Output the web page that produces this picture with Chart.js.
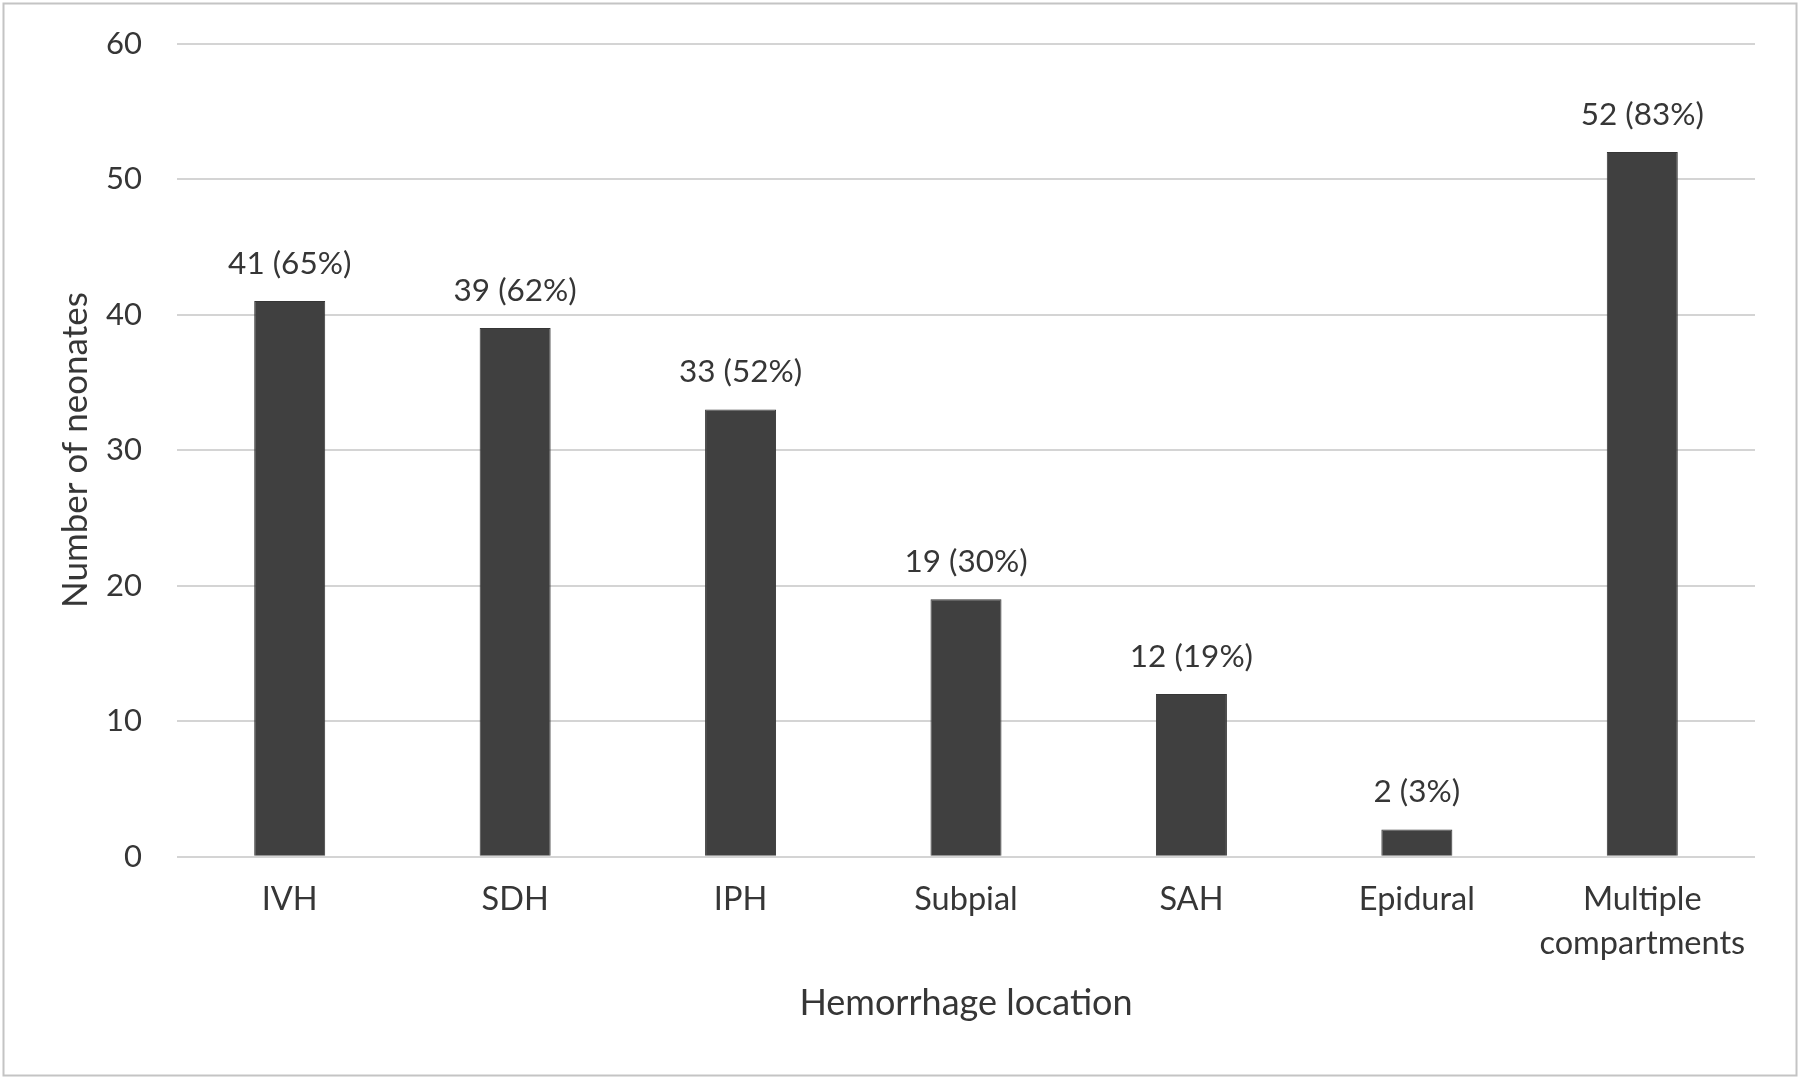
<!DOCTYPE html>
<html lang="en">
<head>
    <meta charset="UTF-8">
    <title>Hemorrhage location</title>
    <script src="https://cdn.jsdelivr.net/npm/chart.js"></script>
    <style>
        html, body {
            margin: 0;
            padding: 0;
            background: #ffffff;
            overflow: hidden;
        }
        #wrap {
            width: 1800px;
            height: 1079px;
        }
    </style>
</head>
<body>
    <div id="wrap">
        <canvas id="chart" width="1800" height="1079"></canvas>
    </div>

    <script>
        // Data
        const categories = ['IVH', 'SDH', 'IPH', 'Subpial', 'SAH', 'Epidural', ['Multiple', 'compartments']];
        const neonates = [41, 39, 33, 19, 12, 2, 52];
        const percents = [65, 62, 52, 30, 19, 3, 83];
        const yTicks = [0, 10, 20, 30, 40, 50, 60];

        const textColor = '#363636';
        const fontFamily = 'Lato, "Open Sans", sans-serif';

        // white background + thin frame around the picture
        const framePlugin = {
            id: 'frame',
            beforeDraw(chart) {
                const c = chart.ctx;
                c.save();
                c.fillStyle = '#ffffff';
                c.fillRect(0, 0, chart.width, chart.height);
                c.restore();
            },
            afterDraw(chart) {
                const c = chart.ctx;
                c.save();
                c.strokeStyle = '#c4c4c4';
                c.lineWidth = 2;
                c.strokeRect(3.5, 3.5, chart.width - 7, chart.height - 7);
                c.restore();
            }
        };

        // "41 (65%)" labels over the bars
        const valueLabels = {
            id: 'valueLabels',
            afterDatasetsDraw(chart) {
                const c = chart.ctx;
                const meta = chart.getDatasetMeta(0);
                c.save();
                c.fillStyle = textColor;
                c.font = '31.5px ' + fontFamily;
                c.textAlign = 'center';
                c.textBaseline = 'middle';
                meta.data.forEach((bar, i) => {
                    c.fillText(neonates[i] + ' (' + percents[i] + '%)', bar.x, bar.y - 37.5);
                });
                c.restore();
            }
        };

        new Chart(document.getElementById('chart'), {
            type: 'bar',
            data: {
                labels: categories,
                datasets: [{
                    data: neonates,
                    backgroundColor: '#404040',
                    borderColor: '#363636',
                    borderWidth: 1,
                    categoryPercentage: 1,
                    barPercentage: 0.315
                }]
            },
            options: {
                responsive: false,
                animation: false,
                events: [],
                layout: {
                    padding: { top: 43.5, right: 45, bottom: 54.4, left: 54.4 }
                },
                plugins: {
                    legend: { display: false },
                    tooltip: { enabled: false }
                },
                scales: {
                    x: {
                        grid: { display: false, drawTicks: false },
                        border: { display: false },
                        ticks: {
                            color: textColor,
                            font: { family: fontFamily, size: 32.5, lineHeight: 1.354 },
                            padding: 21.3,
                            maxRotation: 0,
                            autoSkip: false
                        },
                        title: {
                            display: true,
                            text: 'Hemorrhage location',
                            color: textColor,
                            font: { family: fontFamily, size: 36, lineHeight: 1.2 },
                            padding: 0
                        },
                        afterFit(scale) {
                            scale.height = 167.9;
                        }
                    },
                    y: {
                        min: 0,
                        max: 60,
                        afterBuildTicks(scale) {
                            scale.ticks = yTicks.map(v => ({ value: v }));
                        },
                        // invisible tick marks keep the labels away from the plot
                        grid: { color: '#d4d4d4', lineWidth: 2, drawTicks: true, tickLength: 35, tickColor: 'rgba(0,0,0,0)' },
                        border: { display: false },
                        ticks: {
                            color: textColor,
                            font: { family: fontFamily, size: 31 },
                            padding: 0
                        },
                        title: {
                            display: true,
                            text: 'Number of neonates',
                            color: textColor,
                            font: { family: fontFamily, size: 35, lineHeight: 1.2 },
                            padding: 0
                        },
                        afterFit(scale) {
                            scale.width = 122.6;
                        }
                    }
                }
            },
            plugins: [framePlugin, valueLabels]
        });
    </script>
</body>
</html>
